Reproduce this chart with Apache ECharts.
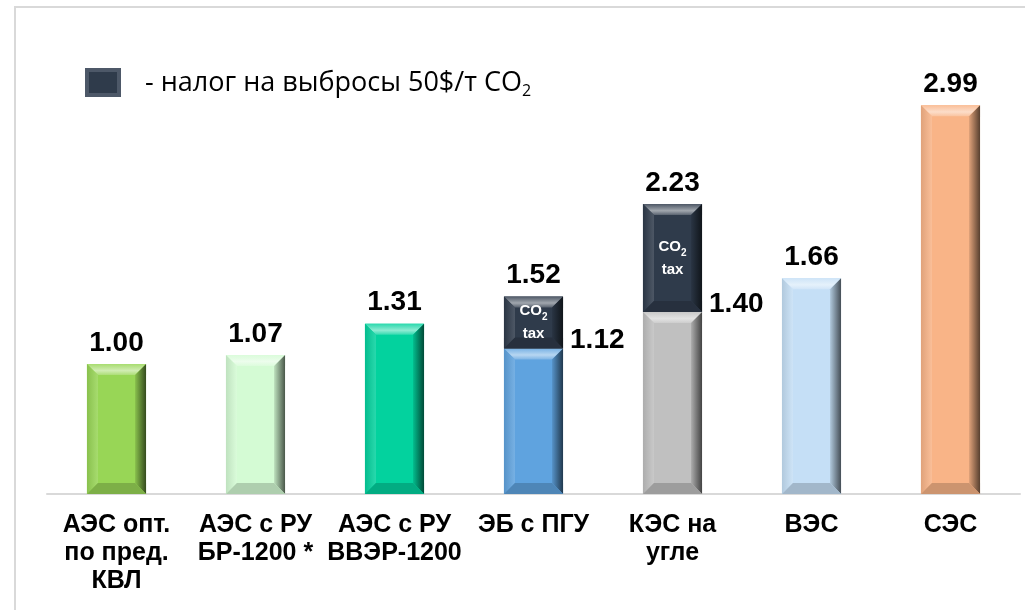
<!DOCTYPE html>
<html>
<head>
	<meta charset="utf-8">
	<title></title>
	<script src="https://cdn.jsdelivr.net/npm/echarts@6/dist/echarts.min.js"></script>
	<style>
		html, body { margin: 0; padding: 0; background: #fff; }
		#box_1 { width: 1025px; height: 610px; }
	</style>
</head>
<body>
	<div id="box_1"></div>
<script>
	// данные
	var categories = ['АЭС опт.\nпо пред.\nКВЛ', 'АЭС с РУ\nБР-1200 *', 'АЭС с РУ\nВВЭР-1200', 'ЭБ с ПГУ', 'КЭС на\nугле', 'ВЭС', 'СЭС']
	var baseValues = [1.00, 1.07, 1.31, 1.12, 1.40, 1.66, 2.99]
	var taxValues = [0, 0, 0, 0.40, 0.83, 0, 0]
	var baseColors = ['#98d656', '#d4fbd4', '#03d29e', '#5fa3df', '#c0c0c0', '#c5dff6', '#f9b487']
	var taxColor = '#2f3b4b'

	var baseData = []
	var taxData = []
	var totalData = []
	for (var i = 0; i < categories.length; i++) {
		baseData.push([i, 0, baseValues[i]])
		if (taxValues[i] > 0) taxData.push([i, baseValues[i], baseValues[i] + taxValues[i]])
		totalData.push([i, baseValues[i] + taxValues[i]])
	}

	function mix(hex, to, k) {
		var r = parseInt(hex.substr(1, 2), 16), g = parseInt(hex.substr(3, 2), 16), b = parseInt(hex.substr(5, 2), 16)
		var t = to === 'w' ? 255 : 0
		r = Math.round(r + (t - r) * k); g = Math.round(g + (t - g) * k); b = Math.round(b + (t - b) * k)
		return 'rgb(' + r + ',' + g + ',' + b + ')'
	}

	// объёмный столбик (фаска)
	function bevelBar(api, color) {
		var idx = api.value(0)
		var p0 = api.coord([idx, api.value(1)])
		var p1 = api.coord([idx, api.value(2)])
		var w = api.size([1, 0])[0] * 0.425
		var x0 = p0[0] - w / 2, x1 = x0 + w, yt = p1[1], yb = p0[1]
		var b = Math.min(11, (yb - yt) / 2)
		return {
			children: [
				{ type: 'rect', shape: { x: x0, y: yt, width: w, height: yb - yt }, style: { fill: color } },
				{ type: 'polygon', shape: { points: [[x0, yt], [x1, yt], [x1 - b, yt + b], [x0 + b, yt + b]] },
					style: { fill: new echarts.graphic.LinearGradient(0, 0, 0, 1, [{ offset: 0, color: mix(color, 'w', 0.15) }, { offset: 0.6, color: mix(color, 'w', 0.55) }, { offset: 1, color: mix(color, 'w', 0.2) }]) } },
				{ type: 'polygon', shape: { points: [[x0, yt], [x0 + b, yt + b], [x0 + b, yb - b], [x0, yb]] },
					style: { fill: new echarts.graphic.LinearGradient(0, 0, 1, 0, [{ offset: 0, color: mix(color, 'b', 0.1) }, { offset: 1, color: mix(color, 'w', 0.15) }]) } },
				{ type: 'polygon', shape: { points: [[x1, yt], [x1, yb], [x1 - b, yb - b], [x1 - b, yt + b]] },
					style: { fill: new echarts.graphic.LinearGradient(0, 0, 1, 0, [{ offset: 0, color: mix(color, 'b', 0.1) }, { offset: 1, color: mix(color, 'b', 0.65) }]) } },
				{ type: 'polygon', shape: { points: [[x0, yb], [x0 + b, yb - b], [x1 - b, yb - b], [x1, yb]] }, style: { fill: mix(color, 'b', 0.18) } }
			],
			x1: x1, yt: yt, yb: yb, xc: p0[0]
		}
	}

	var option = {
		animation: false,
		grid: { left: 47, right: 5, top: 39, bottom: 116 },
		xAxis: {
			type: 'category',
			data: categories,
			axisTick: { show: false },
			axisLine: { show: true, lineStyle: { color: '#d9d9d9', width: 2 } },
			axisLabel: {
				interval: 0,
				margin: 17,
				color: '#000',
				fontFamily: 'Liberation Sans, Arial',
				fontWeight: 'bold',
				fontSize: 25,
				lineHeight: 28
			}
		},
		yAxis: {
			type: 'value',
			min: 0,
			max: 3.5,
			show: false,
			splitLine: { show: false }
		},
		graphic: [
			{ type: 'polyline', shape: { points: [[15, 610], [15, 7], [1025, 7]] }, style: { stroke: '#d9d9d9', lineWidth: 2, fill: null } },
			{ type: 'rect', shape: { x: 85, y: 68, width: 36, height: 29 }, style: { fill: '#4d5868' } },
			{ type: 'rect', shape: { x: 89, y: 72, width: 28, height: 21 }, style: { fill: taxColor } },
			{
				type: 'text', left: 145, top: 70,
				style: {
					text: '{t|- налог на выбросы 50$/т CO}{s|2}',
					rich: {
						t: { fontFamily: 'Open Sans', fontSize: 27, lineHeight: 32, fill: '#000' },
						s: { fontFamily: 'Open Sans', fontSize: 16, lineHeight: 14, verticalAlign: 'bottom', fill: '#000' }
					}
				}
			}
		],
		series: [
			{
				name: 'base',
				type: 'custom',
				data: baseData,
				renderItem: function (params, api) {
					var idx = api.value(0)
					var g = bevelBar(api, baseColors[idx])
					var out = { type: 'group', children: g.children }
					if (taxValues[idx] > 0) {
						out.children.push({
							type: 'text',
							style: { text: baseValues[idx].toFixed(2), x: g.x1 + 7, y: g.yt - 8, align: 'left', verticalAlign: 'middle',
								font: 'bold 28px "Liberation Sans", Arial', fill: '#000' }
						})
					}
					return out
				}
			},
			{
				name: 'tax',
				type: 'custom',
				data: taxData,
				renderItem: function (params, api) {
					var g = bevelBar(api, taxColor)
					var out = { type: 'group', children: g.children }
					out.children.push({
						type: 'text',
						style: {
							text: '{a|CO}{s|2}\n{a|tax}',
							x: g.xc, y: (g.yt + g.yb) / 2, align: 'center', verticalAlign: 'middle',
							rich: {
								a: { font: 'bold 15px "Liberation Sans", Arial', fill: '#fff', lineHeight: 23 },
								s: { font: 'bold 10px "Liberation Sans", Arial', fill: '#fff', lineHeight: 8, verticalAlign: 'bottom' }
							}
						}
					})
					return out
				}
			},
			{
				name: 'total',
				type: 'custom',
				data: totalData,
				renderItem: function (params, api) {
					var pt = api.coord([api.value(0), api.value(1)])
					return {
						type: 'text',
						style: { text: api.value(1).toFixed(2), x: pt[0], y: pt[1] - 21, align: 'center', verticalAlign: 'middle',
							font: 'bold 28px "Liberation Sans", Arial', fill: '#000' }
					}
				}
			}
		]
	}

	var myChart = echarts.init(document.getElementById('box_1'))
	myChart.setOption(option)
</script>
</body>
</html>
